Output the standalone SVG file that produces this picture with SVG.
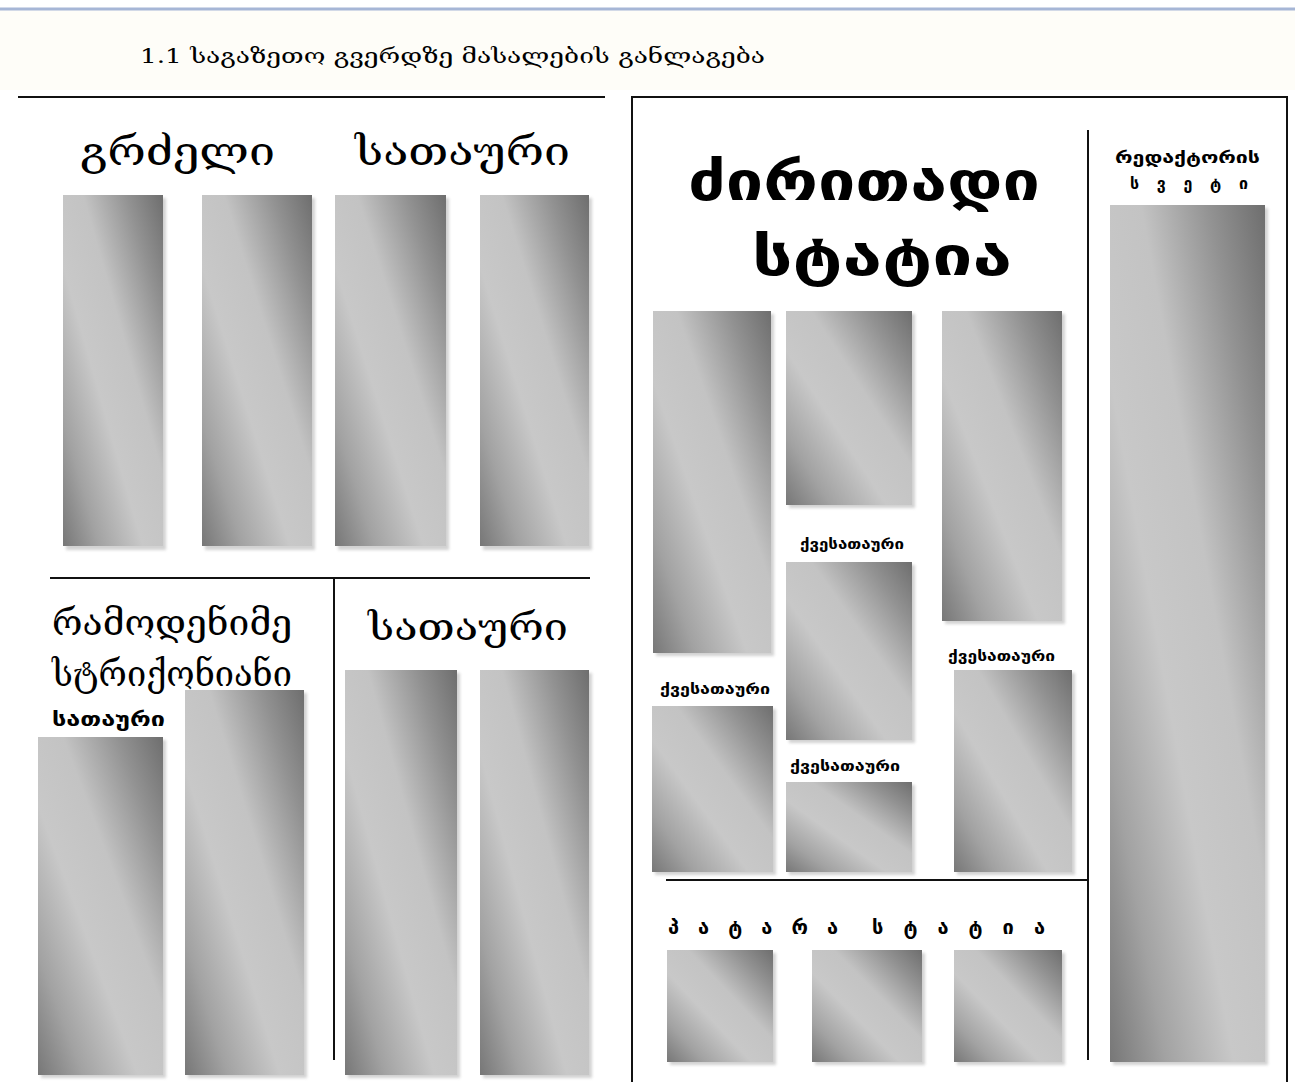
<svg xmlns="http://www.w3.org/2000/svg" width="1295" height="1082" viewBox="0 0 1295 1082">
<defs>
<linearGradient id="grad" x1="1" y1="0" x2="0" y2="1">
<stop offset="0" stop-color="#6e6e6e"/>
<stop offset="0.18" stop-color="#929292"/>
<stop offset="0.4" stop-color="#c3c3c3"/>
<stop offset="0.6" stop-color="#c8c8c8"/>
<stop offset="0.82" stop-color="#a2a2a2"/>
<stop offset="1" stop-color="#777777"/>
</linearGradient>
<filter id="blur" x="-10%" y="-10%" width="120%" height="120%"><feGaussianBlur stdDeviation="1.5"/></filter>
</defs>
<style>
.box{fill:url(#grad);}
.sh{fill:#d2d2d2;filter:url(#blur);}
.ln{stroke:#111;stroke-width:2;fill:none;}
.t{font-family:"DejaVu Serif","Liberation Serif",serif;fill:#000;}
.b{font-family:"DejaVu Sans","Liberation Sans",sans-serif;font-weight:bold;fill:#000;}
</style>
<rect x="0" y="0" width="1295" height="1082" fill="#ffffff"/>
<rect x="0" y="10" width="1295" height="80" fill="#fefdf8"/>
<line x1="0" y1="9" x2="1295" y2="9" stroke="#a6b6d6" stroke-width="3"/>

<g id="title"><text class="t" x="140" y="63" font-size="20" textLength="625" lengthAdjust="spacingAndGlyphs">1.1 საგაზეთო გვერდზე მასალების განლაგება</text></g>

<g id="connectors">
<line class="ln" x1="18" y1="97" x2="605" y2="97"/>
<line class="ln" x1="50" y1="578" x2="590" y2="578"/>
<line class="ln" x1="334" y1="578" x2="334" y2="1060"/>
<polyline class="ln" points="632,1082 632,97 1287,97 1287,1082"/>
<line class="ln" x1="1088" y1="130" x2="1088" y2="1060"/>
<line class="ln" x1="666" y1="880" x2="1088" y2="880"/>
</g>

<g id="long-headline">
<text class="t" x="80" y="165" font-size="40" textLength="195" lengthAdjust="spacingAndGlyphs">გრძელი</text>
<text class="t" x="355" y="165" font-size="40" textLength="215" lengthAdjust="spacingAndGlyphs">სათაური</text>
<rect class="sh" x="66" y="198" width="100" height="352"/><rect class="box" x="63" y="195" width="100" height="351"/>
<rect class="sh" x="205" y="198" width="110" height="352"/><rect class="box" x="202" y="195" width="110" height="351"/>
<rect class="sh" x="338" y="198" width="111" height="352"/><rect class="box" x="335" y="195" width="111" height="351"/>
<rect class="sh" x="483" y="198" width="109" height="352"/><rect class="box" x="480" y="195" width="109" height="351"/>
</g>

<g id="multiline-headline">
<text class="t" x="52" y="635" font-size="36" textLength="240" lengthAdjust="spacingAndGlyphs">რამოდენიმე</text>
<text class="t" x="52" y="686" font-size="36" textLength="240" lengthAdjust="spacingAndGlyphs">სტრიქონიანი</text>
<text class="b" x="52" y="726" font-size="19" textLength="113" lengthAdjust="spacingAndGlyphs">სათაური</text>
<rect class="sh" x="41" y="740" width="125" height="338"/><rect class="box" x="38" y="737" width="125" height="338"/>
<rect class="sh" x="188" y="693" width="119" height="385"/><rect class="box" x="185" y="690" width="119" height="385"/>
</g>

<g id="headline">
<text class="t" x="368" y="640" font-size="38" textLength="200" lengthAdjust="spacingAndGlyphs">სათაური</text>
<rect class="sh" x="348" y="673" width="112" height="405"/><rect class="box" x="345" y="670" width="112" height="405"/>
<rect class="sh" x="483" y="673" width="109" height="405"/><rect class="box" x="480" y="670" width="109" height="405"/>
</g>

<g id="main-article">
<text class="b" x="688" y="200" font-size="54" textLength="352" lengthAdjust="spacingAndGlyphs">ძირითადი</text>
<text class="b" x="752" y="275" font-size="54" textLength="260" lengthAdjust="spacingAndGlyphs">სტატია</text>
<rect class="sh" x="656" y="314" width="118" height="342"/><rect class="box" x="653" y="311" width="118" height="342"/>
<rect class="sh" x="789" y="314" width="126" height="194"/><rect class="box" x="786" y="311" width="126" height="194"/>
<rect class="sh" x="945" y="314" width="120" height="310"/><rect class="box" x="942" y="311" width="120" height="310"/>
<text class="b" x="800" y="549" font-size="14" textLength="104" lengthAdjust="spacingAndGlyphs">ქვესათაური</text>
<rect class="sh" x="789" y="565" width="126" height="178"/><rect class="box" x="786" y="562" width="126" height="178"/>
<text class="b" x="948" y="661" font-size="14" textLength="107" lengthAdjust="spacingAndGlyphs">ქვესათაური</text>
<rect class="sh" x="957" y="673" width="118" height="202"/><rect class="box" x="954" y="670" width="118" height="202"/>
<text class="b" x="660" y="694" font-size="15" textLength="110" lengthAdjust="spacingAndGlyphs">ქვესათაური</text>
<rect class="sh" x="655" y="709" width="121" height="166"/><rect class="box" x="652" y="706" width="121" height="166"/>
<text class="b" x="790" y="771" font-size="14" textLength="110" lengthAdjust="spacingAndGlyphs">ქვესათაური</text>
<rect class="sh" x="789" y="785" width="126" height="90"/><rect class="box" x="786" y="782" width="126" height="90"/>
</g>

<g id="editor-column">
<text class="b" x="1115" y="163" font-size="16" textLength="145" lengthAdjust="spacingAndGlyphs">რედაქტორის</text>
<text class="b" x="1130" y="189" font-size="16" textLength="118" lengthAdjust="spacing">ს ვ ე ტ ი</text>
<rect class="sh" x="1113" y="208" width="155" height="857"/><rect class="box" x="1110" y="205" width="155" height="857"/>
</g>

<g id="small-article">
<text class="b" x="668" y="934" font-size="20" textLength="170" lengthAdjust="spacing">პ ა ტ ა რ ა</text>
<text class="b" x="872" y="934" font-size="20" textLength="173" lengthAdjust="spacing">ს ტ ა ტ ი ა</text>
<rect class="sh" x="670" y="953" width="106" height="112"/><rect class="box" x="667" y="950" width="106" height="112"/>
<rect class="sh" x="815" y="953" width="110" height="112"/><rect class="box" x="812" y="950" width="110" height="112"/>
<rect class="sh" x="957" y="953" width="108" height="112"/><rect class="box" x="954" y="950" width="108" height="112"/>
</g>
</svg>
